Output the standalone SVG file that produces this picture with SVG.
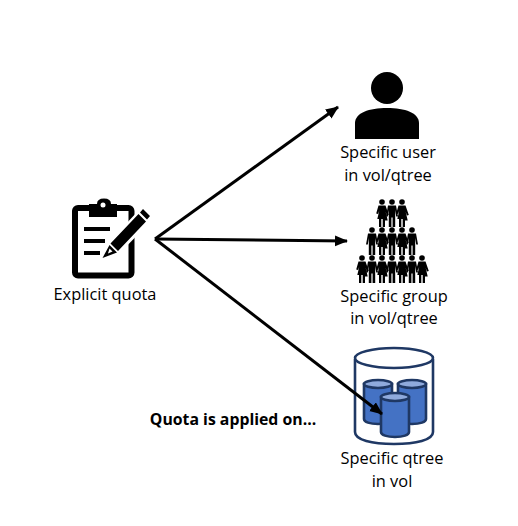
<svg xmlns="http://www.w3.org/2000/svg" width="518" height="526" viewBox="0 0 518 526">
<style>
text{font-family:"Open Sans","Liberation Sans",sans-serif;font-size:16.4px;fill:#000;text-anchor:middle}
.b{font-weight:700;font-size:15.8px}
.con{fill:none;stroke:#000;stroke-width:3}
.cy{fill:#4472c4;stroke:#1f3864;stroke-width:2.6}
.top{fill:#8faadc;stroke:#1f3864;stroke-width:2.6}
</style>
<defs>
<marker id="ah" markerUnits="userSpaceOnUse" markerWidth="14" markerHeight="12" refX="12" refY="5.500" orient="auto"><path d="M0 0L13 5.500L0 11z" fill="#000"/></marker>
<g id="w"><circle cx="0" cy="-16" r="2.800"/><path d="M-3.500-12.500h7l3.300 9.500-1.800.6-1.300-3.600 2 8.500H3V9H.7V1h-1.400V9H-3V1H-4.700l2-8.500-1.300 3.600-1.800-.6z"/></g>
<g id="m"><circle cx="0" cy="-16" r="2.800"/><path d="M-4-12.500h8l2 11h-1.800L3.200-8V9H.6V-.5h-1.200V9H-3.200V-8l-1 6.500H-6z"/></g>
</defs>
<g id="node-explicit">
<rect x="75" y="208" width="56.500" height="67.500" rx="3" fill="none" stroke="#000" stroke-width="6"/>
<path d="M89 204h8q0-5.500 7-5.500t7 5.500h6v13H89z" fill="#000"/><circle cx="103" cy="205" r="2.500" fill="#fff"/>
<path d="M84 229h26M84 241h21M84 253h16" stroke="#000" stroke-width="4" fill="none"/>
<path d="M100 262l6-17 34-36 13 10-35 36z" fill="#fff"/>
<path d="M143 209l7 7-3 3.500-7-7zM138.500 214l7.500 7.500-28 29.500-7.500-7.500zM109.500 245l7.500 7.500-14.500 5.500z" fill="#000"/>
<path d="M109.500 248.500l3 3-4.500 2z" fill="#fff"/>
<text x="105" y="299.500">Explicit quota</text>
</g>
<g id="node-user">
<circle cx="387" cy="88" r="16" fill="#000"/>
<path d="M355 139V123c0-10 14-15 32-15s32 5 32 15v16z" fill="#000"/>
<text x="388" y="158">Specific user</text>
<text x="388" y="181">in vol/qtree</text>
</g>
<g id="node-group" fill="#000">
<use href="#w" x="382" y="218"/><use href="#m" x="392" y="218"/><use href="#w" x="402" y="218"/>
<use href="#m" x="372" y="246"/><use href="#w" x="382" y="246"/><use href="#m" x="392" y="246"/><use href="#w" x="402" y="246"/><use href="#m" x="412" y="246"/>
<use href="#w" x="362" y="274"/><use href="#m" x="372" y="274"/><use href="#w" x="382" y="274"/><use href="#m" x="392" y="274"/><use href="#w" x="402" y="274"/><use href="#m" x="412" y="274"/><use href="#w" x="422" y="274"/>
<text x="394" y="301.500">Specific group</text>
<text x="394" y="323.500">in vol/qtree</text>
</g>
<g id="node-qtree">
<path d="M355 359V432c0 8 17 12 39 12s39-4 39-12V359" fill="#fff" stroke="#1f3864" stroke-width="2.600"/>
<ellipse cx="394" cy="358" rx="39" ry="10" fill="#fff" stroke="#1f3864" stroke-width="2.600"/>
<path class="cy" d="M364 384V419c0 3 6 5 14 5s14-2 14-5V384z"/><ellipse class="top" cx="378" cy="384" rx="14" ry="4"/>
<path class="cy" d="M398 384V419c0 3 6 5 14 5s14-2 14-5V384z"/><ellipse class="top" cx="412" cy="384" rx="14" ry="4"/>
<path class="cy" d="M381 397V432c0 3 6 5 14 5s14-2 14-5V397z"/><ellipse class="top" cx="395" cy="397" rx="14" ry="4"/>
<text x="392" y="463.500">Specific qtree</text>
<text x="392" y="486.500">in vol</text>
</g>
<g id="connectors">
<line class="con" x1="155" y1="239" x2="338" y2="107" marker-end="url(#ah)"/>
<line class="con" x1="155" y1="239" x2="347" y2="241" marker-end="url(#ah)"/>
<line class="con" x1="155" y1="239" x2="382" y2="414" marker-end="url(#ah)"/>
</g>
<g id="label-note"><text class="b" x="233" y="425">Quota is applied on...</text></g>
</svg>
